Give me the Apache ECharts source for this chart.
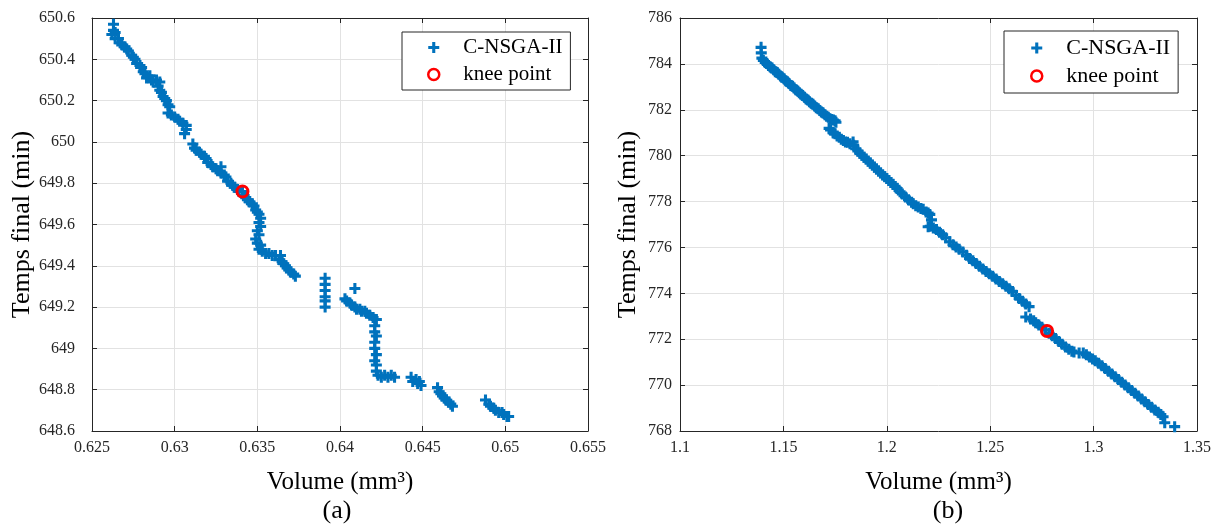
<!DOCTYPE html>
<html>
<head>
<meta charset="utf-8">
<script src="https://cdn.jsdelivr.net/npm/echarts@6/dist/echarts.min.js"></script>
<style>html,body{margin:0;padding:0;background:#fff;}#c{width:1223px;height:525px;}</style>
</head>
<body>
<div id="c"></div>
<script>
// ---- Data ----
const seriesNames = ['C-NSGA-II', 'knee point'];
const panelLabels = ['(a)', '(b)'];
const xTicksA = [0.625, 0.63, 0.635, 0.64, 0.645, 0.65, 0.655];
const yTicksA = [648.6, 648.8, 649, 649.2, 649.4, 649.6, 649.8, 650, 650.2, 650.4, 650.6];
const xTicksB = [1.1, 1.15, 1.2, 1.25, 1.3, 1.35];
const yTicksB = [768, 770, 772, 774, 776, 778, 780, 782, 784, 786];

// Panel (a): [Volume (mm3), Temps final (min)]
const frontA = [
  [0.6263,650.57],[0.6263,650.54],[0.6262,650.52],[0.6264,650.53],[0.6264,650.50],[0.6266,650.50],[0.6267,650.48],
  [0.6268,650.47],[0.6270,650.46],[0.6271,650.45],[0.6272,650.44],[0.6274,650.42],[0.6275,650.41],[0.6276,650.40],
  [0.6277,650.38],[0.6279,650.37],[0.6280,650.36],[0.6281,650.34],[0.6282,650.33],[0.6283,650.31],[0.6285,650.32],
  [0.6286,650.30],[0.6287,650.29],[0.6289,650.30],[0.6291,650.29],[0.6290,650.27],[0.6291,650.25],[0.6292,650.24],
  [0.6293,650.22],[0.6294,650.21],[0.6295,650.20],[0.6296,650.18],[0.6297,650.17],[0.6296,650.14],[0.6298,650.13],
  [0.6300,650.12],[0.6302,650.11],[0.6303,650.10],[0.6305,650.09],[0.6307,650.08],[0.6307,650.06],[0.6306,650.04],
  [0.6311,649.99],[0.6312,649.97],[0.6313,649.96],[0.6315,649.95],[0.6316,649.94],[0.6318,649.93],[0.6319,649.92],
  [0.6320,649.90],[0.6322,649.89],[0.6323,649.88],[0.6325,649.87],[0.6326,649.86],[0.6328,649.88],[0.6328,649.85],
  [0.6330,649.84],[0.6331,649.83],[0.6332,649.81],[0.6334,649.80],[0.6335,649.79],[0.6336,649.78],[0.6338,649.77],
  [0.6339,649.76],[0.6341,649.76],[0.6342,649.74],[0.6343,649.73],[0.6344,649.72],[0.6345,649.71],[0.6347,649.70],
  [0.6348,649.69],[0.6349,649.67],[0.6350,649.66],[0.6351,649.65],[0.6352,649.63],[0.6351,649.61],[0.6352,649.59],
  [0.6350,649.57],[0.6351,649.55],[0.6349,649.53],[0.6350,649.51],[0.6352,649.50],[0.6351,649.48],[0.6353,649.47],
  [0.6355,649.46],[0.6357,649.46],[0.6359,649.45],[0.6361,649.45],[0.6364,649.45],[0.6363,649.43],[0.6365,649.42],
  [0.6366,649.41],[0.6367,649.40],[0.6368,649.39],[0.6369,649.38],[0.6370,649.37],[0.6372,649.36],[0.6373,649.35],
  [0.6391,649.34],[0.6391,649.31],[0.6391,649.28],[0.6391,649.25],[0.6391,649.23],[0.6391,649.20],
  [0.6409,649.29],[0.6403,649.24],[0.6404,649.23],[0.6406,649.22],[0.6407,649.21],[0.6409,649.20],[0.6410,649.19],
  [0.6412,649.19],[0.6413,649.18],[0.6415,649.18],[0.6416,649.17],[0.6418,649.16],[0.6420,649.15],[0.6422,649.14],
  [0.6421,649.11],[0.6421,649.08],[0.6422,649.06],[0.6421,649.03],[0.6421,649.00],[0.6422,648.97],[0.6421,648.94],
  [0.6422,648.92],[0.6422,648.89],[0.6423,648.87],[0.6425,648.86],[0.6427,648.87],[0.6429,648.86],[0.6431,648.87],
  [0.6433,648.86],
  [0.6443,648.86],[0.6444,648.84],[0.6446,648.85],[0.6447,648.83],[0.6448,648.84],[0.6449,648.82],
  [0.6459,648.81],[0.6460,648.79],[0.6461,648.78],[0.6462,648.77],[0.6463,648.76],[0.6464,648.75],[0.6466,648.74],
  [0.6467,648.73],[0.6468,648.72],
  [0.6488,648.75],[0.6490,648.73],[0.6491,648.72],[0.6493,648.71],[0.6494,648.70],[0.6496,648.69],[0.6498,648.69],
  [0.6499,648.68],[0.6501,648.67],[0.6502,648.67]
];
const kneeA = [[0.6341, 649.76]];

// Panel (b): [Volume (mm3), Temps final (min)]
const frontB = [
  [1.1392,784.72],[1.1393,784.48],[1.1396,784.25],[1.1403,784.15],[1.1412,784.06],[1.1420,784.02],[1.1428,783.93],
  [1.1437,783.86],[1.1445,783.82],[1.1453,783.74],[1.1461,783.66],[1.1470,783.62],[1.1478,783.55],[1.1486,783.47],
  [1.1494,783.42],[1.1503,783.35],[1.1511,783.26],[1.1519,783.22],[1.1527,783.15],[1.1536,783.06],[1.1544,783.02],
  [1.1552,782.95],[1.1560,782.87],[1.1569,782.82],[1.1577,782.74],[1.1585,782.68],[1.1593,782.62],[1.1602,782.55],
  [1.1610,782.47],[1.1618,782.43],[1.1626,782.35],[1.1635,782.28],[1.1643,782.24],[1.1651,782.16],[1.1659,782.09],
  [1.1668,782.05],[1.1676,781.97],[1.1684,781.90],[1.1692,781.86],[1.1701,781.78],[1.1709,781.72],[1.1717,781.67],
  [1.1725,781.61],[1.1734,781.58],[1.1742,781.55],[1.1750,781.52],[1.1754,781.46],
  [1.1721,781.19],[1.1728,781.12],[1.1741,780.99],[1.1750,780.95],[1.1760,780.86],[1.1770,780.80],[1.1780,780.72],
  [1.1790,780.66],[1.1800,780.60],[1.1810,780.58],[1.1822,780.52],[1.1837,780.60],[1.1840,780.45],[1.1850,780.30],
  [1.1860,780.20],[1.1870,780.10],[1.1880,780.02],[1.1890,779.93],[1.1900,779.85],[1.1910,779.76],[1.1920,779.68],
  [1.1930,779.59],[1.1940,779.50],[1.1950,779.42],[1.1960,779.33],[1.1970,779.25],[1.1980,779.16],[1.1990,779.08],
  [1.2000,779.00],[1.2010,778.92],[1.2020,778.83],[1.2030,778.75],[1.2040,778.66],[1.2050,778.57],[1.2064,778.43],
  [1.2075,778.33],[1.2090,778.20],[1.2105,778.08],[1.2120,777.97],[1.2128,777.90],[1.2140,777.82],[1.2152,777.76],
  [1.2165,777.70],[1.2176,777.66],[1.2190,777.55],[1.2200,777.50],[1.2208,777.44],[1.2216,777.20],[1.2200,776.90],
  [1.2210,776.92],[1.2225,776.85],[1.2240,776.78],[1.2255,776.66],[1.2270,776.55],[1.2285,776.42],[1.2304,776.25],
  [1.2320,776.12],[1.2335,776.02],[1.2350,775.92],[1.2368,775.80],[1.2385,775.66],[1.2400,775.52],[1.2416,775.42],
  [1.2432,775.30],[1.2448,775.18],[1.2464,775.06],[1.2480,774.95],[1.2496,774.85],[1.2512,774.74],[1.2528,774.63],
  [1.2544,774.52],[1.2560,774.42],[1.2576,774.31],[1.2592,774.20],[1.2608,774.08],[1.2624,773.92],[1.2640,773.78],
  [1.2656,773.65],[1.2672,773.54],[1.2688,773.42],[1.2672,772.97],[1.2695,772.88],[1.2710,772.80],[1.2720,772.72],
  [1.2735,772.62],[1.2750,772.52],[1.2768,772.40],[1.2785,772.26],[1.2800,772.15],[1.2816,772.03],[1.2832,771.90],
  [1.2848,771.78],[1.2864,771.66],[1.2880,771.56],[1.2895,771.48],[1.2905,771.44],[1.2930,771.40],[1.2950,771.40],
  [1.2965,771.32],[1.2980,771.22],[1.2995,771.14],[1.3008,771.06],[1.3024,770.95],[1.3040,770.84],[1.3056,770.72],
  [1.3072,770.60],[1.3088,770.48],[1.3104,770.36],[1.3120,770.24],[1.3136,770.12],[1.3152,770.00],[1.3168,769.88],
  [1.3184,769.76],[1.3200,769.64],[1.3216,769.52],[1.3232,769.40],[1.3248,769.28],[1.3264,769.16],[1.3280,769.04],
  [1.3296,768.92],[1.3312,768.82],[1.3325,768.72],[1.3336,768.62],[1.3344,768.36],[1.3392,768.19]
];
const kneeB = [[1.2775, 772.36]];

// ---- Styling ----
const FONT = 'Liberation Serif';
const BLUE = '#0072BD';
const RED = '#FF0000';
const AXIS = '#262626';
const PLUS = 'path://M3.6,0H6.4V3.6H10V6.4H6.4V10H3.6V6.4H0V3.6H3.6Z';

function fmt(d) { return v => String(parseFloat(v.toFixed(d))); }

function mainX(grid, ticks, dec) {
  return {
    gridIndex: grid, type: 'value', position: 'bottom',
    min: ticks[0], max: ticks[ticks.length - 1], interval: +(ticks[1] - ticks[0]).toFixed(6),
    name: 'Volume (mm³)', nameLocation: 'middle', nameGap: 39,
    nameTextStyle: { fontFamily: FONT, fontSize: 25, color: '#000' },
    axisLine: { show: true, onZero: false, lineStyle: { color: AXIS, width: 1 } },
    axisTick: { show: true, inside: true, length: 5, lineStyle: { color: AXIS } },
    axisLabel: { margin: 9, fontFamily: FONT, fontSize: 16, color: AXIS, formatter: fmt(dec), showMinLabel: true, showMaxLabel: true },
    splitLine: { show: true, lineStyle: { color: '#e2e2e2', width: 1 } }
  };
}
function topX(grid, ticks) {
  return {
    gridIndex: grid, type: 'value', position: 'top',
    min: ticks[0], max: ticks[ticks.length - 1], interval: +(ticks[1] - ticks[0]).toFixed(6),
    axisLine: { show: true, onZero: false, lineStyle: { color: AXIS, width: 1 } },
    axisTick: { show: true, inside: true, length: 5, lineStyle: { color: AXIS } },
    axisLabel: { show: false }, splitLine: { show: false }
  };
}
function mainY(grid, ticks, dec, gap, margin) {
  return {
    gridIndex: grid, type: 'value', position: 'left',
    min: ticks[0], max: ticks[ticks.length - 1], interval: +(ticks[1] - ticks[0]).toFixed(6),
    name: 'Temps final (min)', nameLocation: 'middle', nameGap: gap, nameRotate: 90,
    nameTextStyle: { fontFamily: FONT, fontSize: 26, color: '#000' },
    axisLine: { show: true, onZero: false, lineStyle: { color: AXIS, width: 1 } },
    axisTick: { show: true, inside: true, length: 5, lineStyle: { color: AXIS } },
    axisLabel: { margin: margin, fontFamily: FONT, fontSize: 16, color: AXIS, formatter: fmt(dec), showMinLabel: true, showMaxLabel: true },
    splitLine: { show: true, lineStyle: { color: '#e2e2e2', width: 1 } }
  };
}
function rightY(grid, ticks) {
  return {
    gridIndex: grid, type: 'value', position: 'right',
    min: ticks[0], max: ticks[ticks.length - 1], interval: +(ticks[1] - ticks[0]).toFixed(6),
    axisLine: { show: true, onZero: false, lineStyle: { color: AXIS, width: 1 } },
    axisTick: { show: true, inside: true, length: 5, lineStyle: { color: AXIS } },
    axisLabel: { show: false }, splitLine: { show: false }
  };
}
function legend(left, top, fs, pad) {
  return {
    left: left, top: top, orient: 'vertical',
    backgroundColor: '#fff', borderColor: AXIS, borderWidth: 1, borderRadius: 0,
    padding: pad, itemGap: 6, itemWidth: 11, itemHeight: 11,
    textStyle: { fontFamily: FONT, fontSize: fs, color: '#000', padding: [0, 0, 0, 19] },
    selectedMode: false,
    data: [
      { name: seriesNames[0], icon: PLUS, itemStyle: { color: BLUE, borderWidth: 0 } },
      { name: seriesNames[1], icon: 'circle', itemStyle: { color: '#fff', borderColor: RED, borderWidth: 2.5 } }
    ]
  };
}

const chart = echarts.init(document.getElementById('c'), null, { renderer: 'canvas' });
chart.setOption({
  animation: false,
  backgroundColor: '#fff',
  grid: [
    { left: 92, top: 18, width: 496, height: 413 },
    { left: 680, top: 18, width: 517, height: 413 }
  ],
  xAxis: [mainX(0, xTicksA, 3), topX(0, xTicksA), mainX(1, xTicksB, 2), topX(1, xTicksB)],
  yAxis: [mainY(0, yTicksA, 1, 55, 17), rightY(0, yTicksA), mainY(1, yTicksB, 0, 39, 8), rightY(1, yTicksB)],
  legend: [legend(402, 32, 21, [5, 8, 5, 25]), legend(1004, 31, 22, [6, 8, 6, 26])],
  graphic: [
    { type: 'text', x: 337, y: 511, style: { text: panelLabels[0], font: '26px "' + FONT + '"', fill: '#000', align: 'center', verticalAlign: 'middle' } },
    { type: 'text', x: 948, y: 511, style: { text: panelLabels[1], font: '26px "' + FONT + '"', fill: '#000', align: 'center', verticalAlign: 'middle' } }
  ],
  series: [
    { type: 'scatter', name: seriesNames[0], xAxisIndex: 0, yAxisIndex: 0, data: frontA, symbol: PLUS, symbolSize: 11, itemStyle: { color: BLUE, opacity: 1 }, z: 2 },
    { type: 'scatter', name: seriesNames[1], xAxisIndex: 0, yAxisIndex: 0, data: kneeA, symbol: 'circle', symbolSize: 11, itemStyle: { color: 'rgba(0,0,0,0)', borderColor: RED, borderWidth: 3, opacity: 1 }, z: 3 },
    { type: 'scatter', name: seriesNames[0], xAxisIndex: 2, yAxisIndex: 2, data: frontB, symbol: PLUS, symbolSize: 11, itemStyle: { color: BLUE, opacity: 1 }, z: 2 },
    { type: 'scatter', name: seriesNames[1], xAxisIndex: 2, yAxisIndex: 2, data: kneeB, symbol: 'circle', symbolSize: 11, itemStyle: { color: 'rgba(0,0,0,0)', borderColor: RED, borderWidth: 3, opacity: 1 }, z: 3 }
  ]
});
</script>
</body>
</html>
